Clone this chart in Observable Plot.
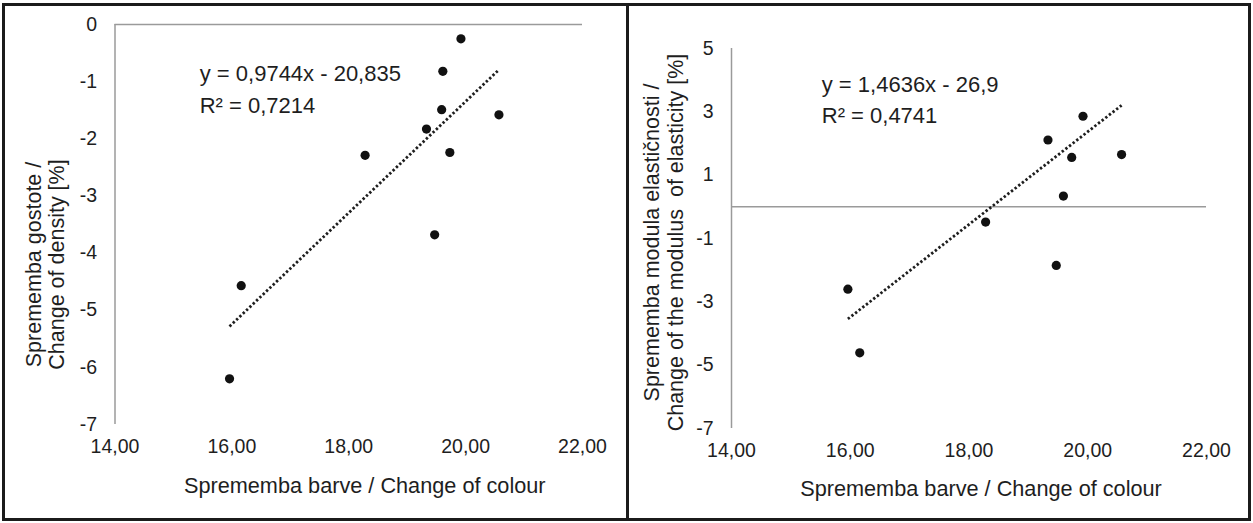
<!DOCTYPE html>
<html>
<head>
<meta charset="utf-8">
<script src="https://cdn.jsdelivr.net/npm/d3@7"></script>
<script src="https://cdn.jsdelivr.net/npm/@observablehq/plot@0.6"></script>
<style>
  html, body { margin: 0; padding: 0; background: #fff; }
  body { width: 1253px; height: 523px; position: relative; overflow: hidden; }
  #outer { position: absolute; left: 2px; top: 3px; width: 1243px; height: 512px; border: 3px solid #1b1b1b; }
  #divider { position: absolute; left: 626px; top: 3px; width: 3px; height: 518px; background: #1b1b1b; }
  .panel { position: absolute; top: 7px; }
  .panel svg { display: block; }
</style>
</head>
<body>
<div id="outer"></div>
<div id="divider"></div>
<div class="panel" id="left" style="left:6px"></div>
<div class="panel" id="right" style="left:629px"></div>
<script>
// Colour change of each sample (shared x values)
const colourChange = [15.96, 16.16, 18.28, 19.33, 19.47, 19.59, 19.61, 19.73, 19.92, 20.57];
// Change of density [%]
const densityChange = [-6.20, -4.57, -2.29, -1.83, -3.68, -1.49, -0.82, -2.24, -0.25, -1.58];
// Change of the modulus of elasticity [%] (one sample not measured)
const elasticityChange = [-2.60, -4.61, -0.48, 2.11, -1.85, 0.34, null, 1.56, 2.86, 1.65];

// Linear trend coefficients
const densitySlope = 0.9744, densityIntercept = -20.835, densityR2 = "0,7214";
const elasticitySlope = 1.4636, elasticityIntercept = -26.9, elasticityR2 = "0,4741";

const xTicks = [14, 16, 18, 20, 22];
const densityTicks = [-7, -6, -5, -4, -3, -2, -1, 0];
const elasticityTicks = [-7, -5, -3, -1, 1, 3, 5];

const xTitle = "Sprememba barve / Change of colour";
const densityTitle = "Sprememba gostote /\nChange of density [%]";
const elasticityTitle = "Sprememba modula elastičnosti /\nChange of the modulus  of elasticity [%]";

const font = "'Liberation Sans', Arial, Helvetica, sans-serif";
const ink = "#1e1e1e";
const axisGrey = "#9a9a9a";

function fmtDec(v) { return v.toFixed(2).replace(".", ","); }

function panel(o) {
  const rows = colourChange.map((x, i) => ({x, y: o.values[i]})).filter(d => d.y != null);
  const xs = rows.map(d => d.x);
  const x0 = d3.min(xs), x1 = d3.max(xs);
  const trend = [x0, x1].map(x => ({x, y: o.slope * x + o.intercept}));
  const eqText = `y = ${String(o.slope).replace(".", ",")}x - ${String(-o.intercept).replace(".", ",")}`;
  return Plot.plot({
    width: 620,
    height: 512,
    marginLeft: o.ml, marginRight: o.mr, marginTop: o.mt, marginBottom: o.mb,
    style: {fontFamily: font, color: ink, background: "transparent", overflow: "visible"},
    x: {domain: [14, 22], axis: null},
    y: {domain: o.domain, axis: null},
    marks: [
      Plot.axisX(xTicks, {tickFormat: fmtDec, tickSize: 0, tickPadding: 15, fontSize: 19.5, fill: ink, label: null}),
      Plot.axisY(o.ticks, {tickFormat: d => String(d), tickSize: 0, tickPadding: 18, fontSize: 19.5, fill: ink, label: null}),
      Plot.ruleX([14], {stroke: axisGrey, strokeWidth: 1.5}),
      Plot.ruleY([0], {stroke: axisGrey, strokeWidth: 1.5}),
      Plot.line(trend, {x: "x", y: "y", stroke: ink, strokeWidth: 2.8, strokeDasharray: "2.4,2.2", strokeLinecap: "butt"}),
      Plot.dot(rows, {x: "x", y: "y", r: 4.6, fill: "#111", stroke: "none"}),
      Plot.text([eqText, `R² = ${o.r2}`], {
        x: o.eqX, y: (d, i) => o.eqY[i], text: d => d, textAnchor: "start",
        fontSize: 22, fill: ink
      }),
      Plot.text([xTitle], {frameAnchor: "bottom", text: d => d, dx: o.xtDx, dy: o.xtDy, fontSize: 21.7, fill: ink}),
      Plot.text([o.yTitle], {
        frameAnchor: "left", text: d => d, rotate: -90, textAnchor: "middle", lineAnchor: "middle",
        lineHeight: 1.08, dx: o.ytDx, dy: o.ytDy, fontSize: 21.5, fill: ink
      })
    ]
  });
}

document.getElementById("left").append(panel({
  values: densityChange, slope: densitySlope, intercept: densityIntercept, r2: densityR2,
  domain: [-7, 0], ticks: densityTicks,
  ml: 108.5, mr: 44, mt: 17, mb: 95,
  eqX: 15.45, eqY: [-0.86, -1.42],
  xtDx: 16, xtDy: 68,
  yTitle: densityTitle, ytDx: -70, ytDy: 40
}));

document.getElementById("right").append(panel({
  values: elasticityChange, slope: elasticitySlope, intercept: elasticityIntercept, r2: elasticityR2,
  domain: [-7, 5], ticks: elasticityTicks,
  ml: 102, mr: 43, mt: 41, mb: 91,
  eqX: 15.52, eqY: [3.85, 2.86],
  xtDx: 12, xtDy: 67,
  yTitle: elasticityTitle, ytDx: -68, ytDy: 4
}));
</script>
</body>
</html>
